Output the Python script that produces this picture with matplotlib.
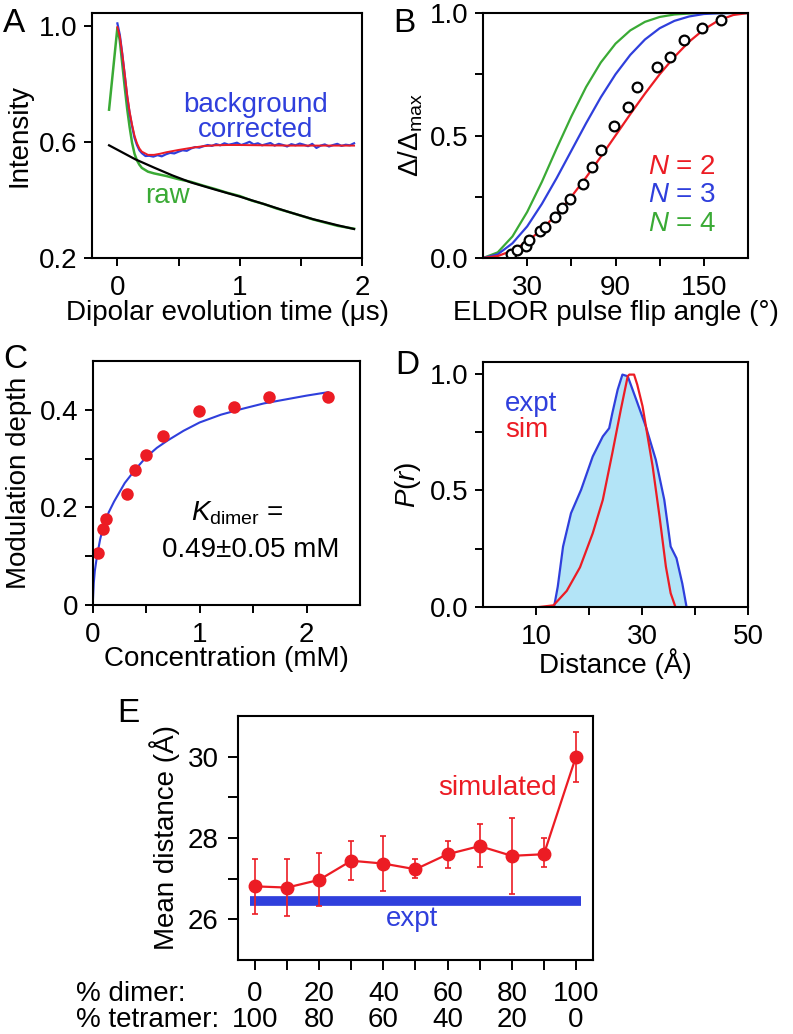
import numpy as np
import matplotlib.pyplot as plt

plt.rcParams['font.family'] = ['Liberation Sans', 'DejaVu Sans']
plt.rcParams['mathtext.fontset'] = 'custom'
plt.rcParams['mathtext.rm'] = 'Liberation Sans'
plt.rcParams['mathtext.it'] = 'Liberation Sans:italic'
plt.rcParams['mathtext.bf'] = 'Liberation Sans:bold'
plt.rcParams['axes.linewidth'] = 1.5
plt.rcParams['font.size'] = 20

RED = '#ec1c24'
BLUE = '#2f3fdc'
GREEN = '#3aaa35'
FILL = '#b3e4f7'

# ---- panel A: DEER traces
fit_t = [0, 0.02, 0.04, 0.06, 0.08, 0.1, 0.12, 0.14, 0.16, 0.18, 0.2, 0.25, 0.3,
         0.35, 0.4, 0.5, 0.6, 0.7, 0.8, 0.9, 1.0, 1.2, 1.4, 1.6, 1.8, 1.935]
fit_y = [0.997, 0.965, 0.905, 0.835, 0.762, 0.705, 0.66, 0.622, 0.596, 0.578, 0.567,
         0.556, 0.556, 0.56, 0.565, 0.573, 0.58, 0.586, 0.589, 0.59, 0.59, 0.589,
         0.588, 0.588, 0.588, 0.588]
corr_t_early = [0, 0.02, 0.04, 0.06, 0.08, 0.1, 0.12, 0.14, 0.16, 0.18, 0.2, 0.23]
corr_y_early = [1.01, 0.97, 0.905, 0.832, 0.758, 0.7, 0.655, 0.615, 0.59, 0.572,
                0.562, 0.552]
corr_y_late = [0.553, 0.550, 0.555, 0.551, 0.558, 0.563, 0.561, 0.567, 0.572, 0.570,
               0.578, 0.583, 0.581, 0.586, 0.590, 0.587, 0.593, 0.589, 0.596, 0.591,
               0.594, 0.598, 0.590, 0.595, 0.601, 0.592, 0.596, 0.589, 0.593, 0.597,
               0.588, 0.594, 0.590, 0.585, 0.593, 0.589, 0.595, 0.591, 0.586, 0.594,
               0.580, 0.588, 0.592, 0.585, 0.590, 0.594, 0.587, 0.591, 0.589, 0.596]
raw_t = [-0.068, 0.0, 0.02, 0.04, 0.06, 0.08, 0.1, 0.12, 0.14, 0.16, 0.18, 0.2, 0.25,
         0.3, 0.4, 0.5, 0.6, 0.7, 0.8, 0.9, 1.0, 1.1, 1.2, 1.3, 1.4, 1.5, 1.6, 1.7,
         1.8, 1.935]
raw_y = [0.712, 0.995, 0.95, 0.87, 0.79, 0.715, 0.652, 0.598, 0.56, 0.537, 0.522,
         0.511, 0.498, 0.492, 0.483, 0.472, 0.463, 0.450, 0.438, 0.425, 0.414, 0.398,
         0.386, 0.371, 0.359, 0.346, 0.333, 0.322, 0.311, 0.301]
bg_t = [-0.068, 0.145, 0.3, 0.45, 0.6, 0.8, 1.0, 1.2, 1.4, 1.6, 1.8, 1.935]
bg_y = [0.589, 0.541, 0.512, 0.485, 0.461, 0.436, 0.412, 0.386, 0.359, 0.334, 0.313,
        0.300]

# ---- panel B: modulation depth vs flip angle
angle = [0, 10, 20, 30, 40, 50, 60, 70, 80, 90, 100, 110, 120, 130, 140, 150, 160,
         170, 180]
n2 = [0, 0.008, 0.03, 0.067, 0.117, 0.179, 0.25, 0.329, 0.413, 0.5, 0.587, 0.671,
      0.75, 0.821, 0.883, 0.933, 0.97, 0.992, 1.0]
n3 = [0, 0.015, 0.06, 0.129, 0.221, 0.326, 0.438, 0.55, 0.656, 0.75, 0.829, 0.892,
      0.938, 0.968, 0.986, 0.996, 0.999, 1.0, 1.0]
n4 = [0, 0.023, 0.088, 0.188, 0.311, 0.447, 0.578, 0.698, 0.798, 0.875, 0.929,
      0.964, 0.984, 0.994, 0.998, 1.0, 1.0, 1.0, 1.0]
b_angle = [19.2, 23.3, 29.3, 30.9, 38.8, 42.1, 49.1, 53.6, 59.2, 68.0, 73.8, 80.3,
           88.9, 98.3, 104.6, 118.1, 127.1, 136.5, 148.4, 161.5]
b_depth = [0.018, 0.034, 0.050, 0.072, 0.109, 0.127, 0.166, 0.204, 0.241, 0.302,
           0.370, 0.442, 0.540, 0.616, 0.698, 0.778, 0.820, 0.888, 0.939, 0.973]

# ---- panel C: modulation depth vs concentration
conc = [0.05, 0.097, 0.128, 0.322, 0.394, 0.495, 0.654, 0.995, 1.324, 1.652, 2.2]
depth = [0.107, 0.155, 0.177, 0.228, 0.277, 0.307, 0.347, 0.398, 0.406, 0.427, 0.427]
conc_fit = [0, 0.01, 0.02, 0.04, 0.07, 0.1, 0.15, 0.2, 0.3, 0.4, 0.5, 0.6, 0.7, 0.85,
            1.0, 1.2, 1.4, 1.6, 1.8, 2.0, 2.2]
depth_fit = [0, 0.045, 0.07, 0.1, 0.135, 0.16, 0.19, 0.212, 0.25, 0.278, 0.303,
             0.322, 0.337, 0.357, 0.374, 0.39, 0.402, 0.413, 0.421, 0.429, 0.436]

# ---- panel D: distance distributions
r_expt = [13.4, 14.1, 15.1, 16.6, 18.5, 20.7, 22.6, 23.8, 24.4, 25.4, 26.3, 27.3,
          28.9, 30.7, 32.6, 34.2, 35.4, 36.5, 37.6, 38.4]
p_expt = [0, 0.087, 0.259, 0.402, 0.502, 0.645, 0.731, 0.766, 0.831, 0.931, 0.996,
          0.989, 0.889, 0.775, 0.631, 0.459, 0.259, 0.209, 0.1, 0]
r_sim = [10.7, 13.3, 15.8, 18.3, 20.7, 22.6, 24.4, 26.0, 27.3, 27.6, 28.5, 29.1,
         30.1, 32.0, 33.3, 34.5, 35.4, 36.3]
p_sim = [0, 0.007, 0.069, 0.17, 0.316, 0.459, 0.66, 0.846, 0.989, 0.996, 0.996,
         0.953, 0.86, 0.603, 0.388, 0.173, 0.059, 0]

# ---- panel E: mean distance vs composition
pct_dimer = [0, 10, 20, 30, 40, 50, 60, 70, 80, 90, 100]
mean_sim = [26.81, 26.78, 26.97, 27.44, 27.37, 27.23, 27.60, 27.80, 27.56, 27.60, 30.00]
sim_hi = [27.48, 27.48, 27.64, 27.93, 28.05, 27.48, 27.93, 28.34, 28.50, 28.01, 30.60]
sim_lo = [26.13, 26.09, 26.32, 26.97, 26.70, 27.01, 27.26, 27.28, 26.62, 27.28, 29.38]
expt_mean = 26.46
expt_span = [-1.5, 101.5]
dimer_labels = ['0', '20', '40', '60', '80', '100']
tetramer_labels = ['100', '80', '60', '40', '20', '0']


def style(ax, xpad=7, ypad=5, length=5.5):
    ax.tick_params(direction='out', length=length, width=1.4, labelsize=20)
    ax.tick_params(axis='x', pad=xpad)
    ax.tick_params(axis='y', pad=ypad)


fig = plt.figure(figsize=(7.93, 10.34), dpi=100)

# A
ax = fig.add_axes([0.1164, 0.7505, 0.3401, 0.2367])
ax.plot(raw_t, raw_y, color=GREEN, lw=1.8)
ax.plot(bg_t, bg_y, color='black', lw=1.6)
ct = corr_t_early + list(np.linspace(0.26, 1.935, len(corr_y_late)))
ax.plot(ct, corr_y_early + corr_y_late, color=BLUE, lw=1.6)
ax.plot(fit_t, fit_y, color=RED, lw=1.4)
ax.text(1.13, 0.685, 'background\ncorrected', color=BLUE, ha='center', va='center',
        fontsize=20, linespacing=0.95)
ax.text(0.41, 0.414, 'raw', color=GREEN, ha='center', va='center', fontsize=20)
ax.set_xlim(-0.205, 2.0)
ax.set_ylim(0.2, 1.045)
ax.set_xticks([0, 0.5, 1, 1.5, 2], labels=['0', '', '1', '', '2'])
ax.set_yticks([0.2, 0.6, 1.0], labels=['0.2', '0.6', '1.0'])
style(ax)
ax.set_xlabel('Dipolar evolution time (\u03bcs)', fontsize=20)
ax.set_ylabel('Intensity', fontsize=20)
ax.xaxis.set_label_coords(0.5, -0.17)
ax.yaxis.set_label_coords(-0.22, 0.5)

# B
ax = fig.add_axes([0.6091, 0.7505, 0.3342, 0.2369])
ax.plot(angle, n4, color=GREEN, lw=1.6)
ax.plot(angle, n3, color=BLUE, lw=1.6)
ax.plot(angle, n2, color=RED, lw=1.6)
ax.plot(b_angle, b_depth, 'o', mfc='white', mec='black', mew=1.6, ms=7)
ax.text(112, 0.371, '$N$ = 2', color=RED, ha='left', va='center', fontsize=20)
ax.text(112, 0.257, '$N$ = 3', color=BLUE, ha='left', va='center', fontsize=20)
ax.text(112, 0.139, '$N$ = 4', color=GREEN, ha='left', va='center', fontsize=20)
ax.set_xlim(0, 180)
ax.set_ylim(0, 1.0)
ax.set_xticks([30, 60, 90, 120, 150], labels=['30', '', '90', '', '150'])
ax.set_yticks([0, 0.25, 0.5, 0.75, 1.0], labels=['0.0', '', '0.5', '', '1.0'])
style(ax)
ax.set_xlabel('ELDOR pulse flip angle (\u00b0)', fontsize=20)
ax.set_ylabel('\u0394/\u0394$_{\\mathrm{max}}$', fontsize=20)
ax.xaxis.set_label_coords(0.5, -0.17)
ax.yaxis.set_label_coords(-0.22, 0.5)

# C
ax = fig.add_axes([0.1169, 0.4149, 0.3371, 0.236])
ax.plot(conc_fit, depth_fit, color=BLUE, lw=1.5)
ax.plot(conc, depth, 'o', color=RED, ms=9, mec='none')
ax.text(1.35, 0.188, '$K_{\\mathrm{dimer}}$ =', ha='center', va='center', fontsize=20)
ax.text(1.475, 0.112, '0.49\u00b10.05 mM', ha='center', va='center', fontsize=20)
ax.set_xlim(0, 2.5)
ax.set_ylim(0, 0.5)
ax.set_xticks([0, 0.5, 1, 1.5, 2], labels=['0', '', '1', '', '2'])
ax.set_yticks([0, 0.1, 0.2, 0.3, 0.4], labels=['0', '', '0.2', '', '0.4'])
style(ax)
ax.set_xlabel('Concentration (mM)', fontsize=20)
ax.set_ylabel('Modulation depth', fontsize=20)
ax.xaxis.set_label_coords(0.5, -0.17)
ax.yaxis.set_label_coords(-0.227, 0.5)

# D
ax = fig.add_axes([0.6091, 0.4130, 0.3342, 0.2369])
ax.fill_between(r_expt, p_expt, 0, color=FILL, lw=0)
ax.plot(r_expt, p_expt, color=BLUE, lw=1.6)
ax.plot(r_sim, p_sim, color=RED, lw=1.6)
ax.text(4.15, 0.871, 'expt', color=BLUE, ha='left', va='center', fontsize=20)
ax.text(4.15, 0.76, 'sim', color=RED, ha='left', va='center', fontsize=20)
ax.set_xlim(0, 50)
ax.set_ylim(0, 1.05)
ax.set_xticks([10, 20, 30, 40, 50], labels=['10', '', '30', '', '50'])
ax.set_yticks([0, 0.25, 0.5, 0.75, 1.0], labels=['0.0', '', '0.5', '', '1.0'])
style(ax)
ax.set_xlabel('Distance (\u00c5)', fontsize=20)
ax.set_ylabel('$P$($r$)', fontsize=20)
ax.xaxis.set_label_coords(0.5, -0.17)
ax.yaxis.set_label_coords(-0.226, 0.5)

# E
ax = fig.add_axes([0.3001, 0.0716, 0.4477, 0.236])
ax.plot(expt_span, [expt_mean, expt_mean], color=BLUE, lw=7, solid_capstyle='butt',
        zorder=1)
yerr = [np.subtract(mean_sim, sim_lo), np.subtract(sim_hi, mean_sim)]
ax.errorbar(pct_dimer, mean_sim, yerr=yerr, color=RED, lw=1.6, marker='o', ms=9,
            elinewidth=1.2, capsize=2.5, capthick=1.2, zorder=3)
ax.text(75.4, 29.24, 'simulated', color=RED, ha='center', va='center', fontsize=20)
ax.text(49, 26.0, 'expt', color=BLUE, ha='center', va='center', fontsize=20)
ax.set_xlim(-5.3, 105.3)
ax.set_ylim(25, 31)
ticklabels = []
for i in range(11):
    if i % 2 == 0:
        ticklabels.append(dimer_labels[i // 2] + '\n' + tetramer_labels[i // 2])
    else:
        ticklabels.append('')
ax.set_xticks(pct_dimer, labels=ticklabels)
for lbl in ax.get_xticklabels():
    lbl.set_linespacing(1.02)
ax.set_yticks([26, 27, 28, 29, 30], labels=['26', '', '28', '', '30'])
style(ax, xpad=8, ypad=7, length=7)
ax.set_ylabel('Mean distance (\u00c5)', fontsize=20)
ax.yaxis.set_label_coords(-0.163, 0.5)
fig.text(76 / 793, 1 - 981 / 1034, '% dimer:\n% tetramer:', ha='left', va='top',
         fontsize=20, linespacing=1.02)

# panel letters
for letter, x, y in [('A', 3, 23), ('B', 393, 23), ('C', 3, 360), ('D', 395, 365),
                     ('E', 117, 714)]:
    fig.text(x / 793, 1 - y / 1034, letter, fontsize=24, ha='left', va='center')

fig.savefig('out.png', dpi=100)
